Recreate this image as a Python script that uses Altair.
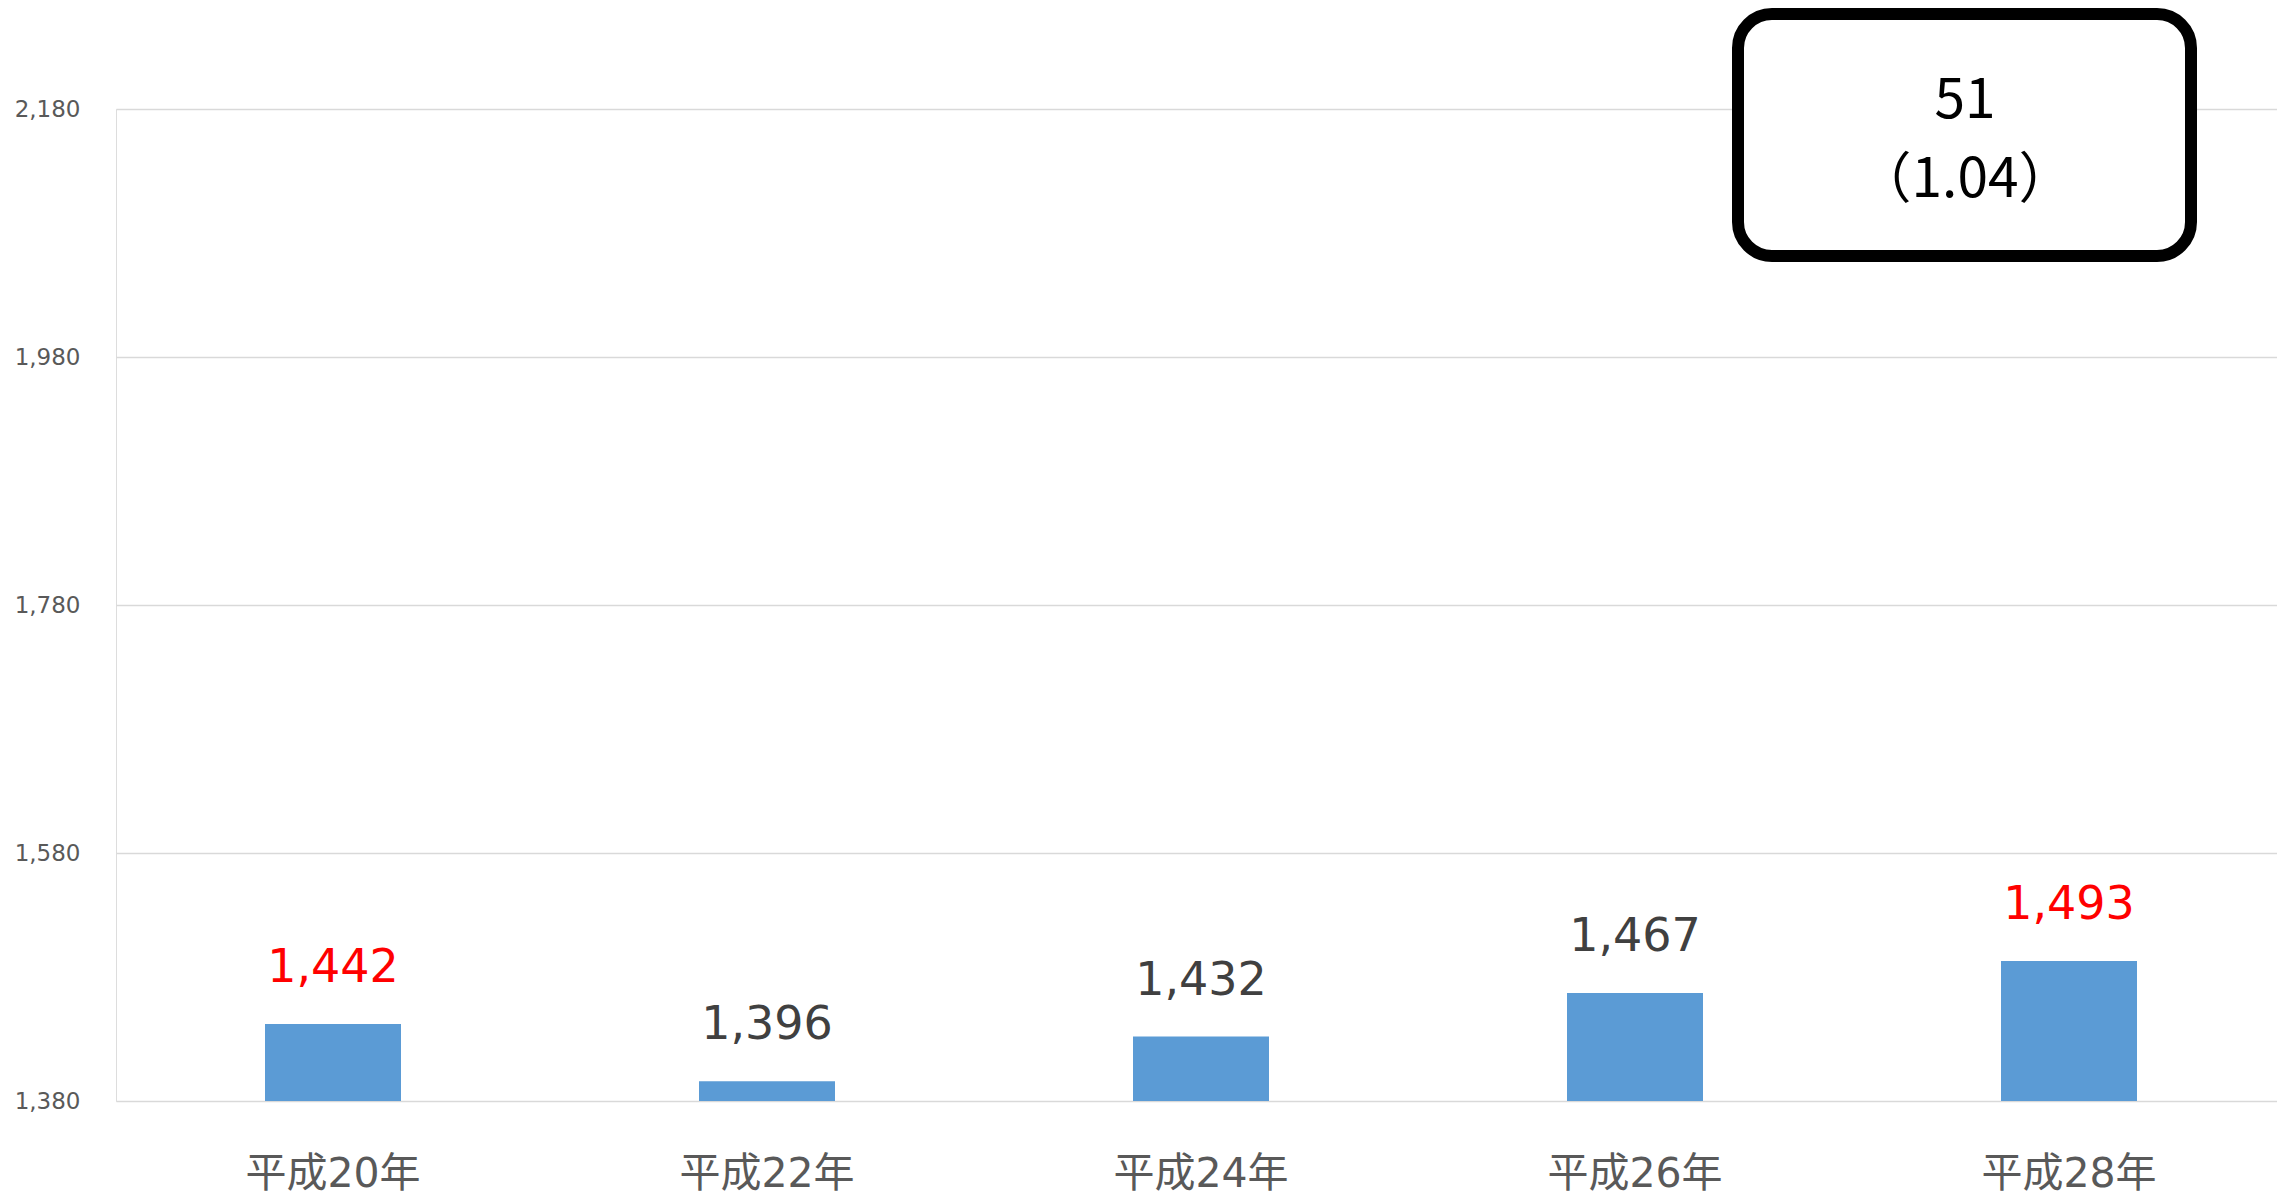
import altair as alt
import pandas as pd

years = ["平成20年", "平成22年", "平成24年", "平成26年", "平成28年"]
values = [1442, 1396, 1432, 1467, 1493]
label_colors = ["#FF0000", "#404040", "#404040", "#404040", "#FF0000"]
y_ticks = [1380, 1580, 1780, 1980, 2180]
box_text = "51\n（1.04）"

df = pd.DataFrame({"year": years, "value": values, "lc": label_colors})

x_scale = alt.Scale(domain=years, range=[0, 2170], paddingInner=0, paddingOuter=0)
y_scale = alt.Scale(domain=[1380, 2180], nice=False, zero=False)

x_enc = alt.X("year:N", sort=years, title=None, scale=x_scale,
              axis=alt.Axis(labelAngle=0, labelFontSize=41, labelColor="#595959",
                            labelFont="DejaVu Sans, Noto Sans CJK JP", labelPadding=53,
                            domain=False, ticks=False, grid=False))
y_enc = alt.Y("value:Q", title=None, scale=y_scale,
              axis=alt.Axis(values=y_ticks, labelExpr="format(datum.value, ',')",
                            labelFontSize=23, labelColor="#595959",
                            labelFont="DejaVu Sans", labelPadding=36, domain=False, ticks=False,
                            grid=True, gridColor="#D9D9D9", gridWidth=1.4))

base = alt.Chart(df)

bars = base.mark_bar(size=136, color="#5B9BD5").encode(x=x_enc, y=y_enc, y2=alt.datum(1380))

labels = base.mark_text(fontSize=46, font="DejaVu Sans", baseline="alphabetic", dy=-42).encode(
    x=x_enc,
    y=y_enc,
    text=alt.Text("value:Q", format=","),
    color=alt.Color("lc:N", scale=None),
)

box = alt.Chart(pd.DataFrame({"t": [box_text]})).mark_rect(
    fill="white", stroke="black", strokeWidth=12, cornerRadius=34
).encode(x=alt.value(1622), x2=alt.value(2075), y=alt.value(-95), y2=alt.value(147))

box_label = alt.Chart(pd.DataFrame({"t": [box_text]})).mark_text(
    font="Noto Sans CJK JP", fontSize=55, color="black", align="center",
    baseline="alphabetic", lineBreak="\n", lineHeight=79
).encode(x=alt.value(1849), y=alt.value(9), text="t:N")

chart = alt.layer(bars, labels, box, box_label).properties(
    width=2161, height=992,
    autosize=alt.AutoSizeParams(type="none"),
    padding={"left": 108, "top": 101, "right": 0, "bottom": 100},
).configure_view(strokeWidth=0).configure(background="white")

chart.save("out.html", embed_options={"renderer": "svg", "actions": False})
